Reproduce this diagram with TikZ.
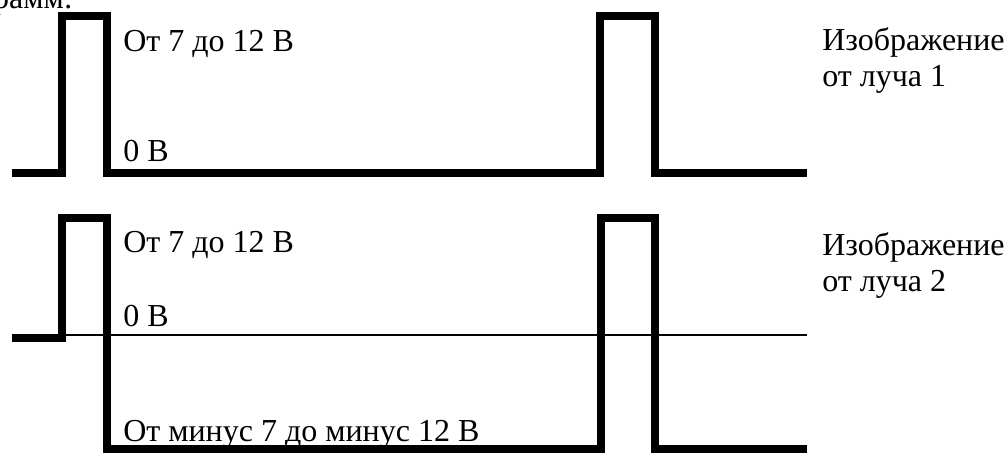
\documentclass[tikz,border=0pt]{standalone}
\usepackage{fontspec}
\setmainfont{Liberation Serif}
\begin{document}
\begin{tikzpicture}[x=0.75pt,y=-0.75pt,
  sig/.style={line width=6pt, line join=miter},
  zero/.style={line width=1.5pt},
  lbl/.style={anchor=base west, inner sep=0pt, font=\fontsize{24}{27}\selectfont}]
\useasboundingbox (0,0) rectangle (1008,459);
\clip (0,0) rectangle (1008,459);
% cut-off line of text at the top
\node[lbl, anchor=base east] (cut) at (73,9) {грамм:};
% beam 1
\draw[sig] (12,173) -- (62,173) -- (62,16) -- (107,16) -- (107,173)
  -- (600,173) -- (600,16) -- (655,16) -- (655,173) -- (807,173);
\node[lbl] (h1) at (123,52) {От 7 до 12 В};
\node[lbl] (z1) at (123,162) {0 В};
\node[lbl] (i1) at (822,51) {Изображение};
\node[lbl] (o1) at (822,87) {от луча 1};
% beam 2
\draw[zero] (62,335.5) -- (807,335.5);
\draw[sig] (12,338) -- (62,338) -- (62,218) -- (107,218) -- (107,449)
  -- (601,449) -- (601,218) -- (655,218) -- (655,449) -- (807,449);
\node[lbl] (h2) at (123,253) {От 7 до 12 В};
\node[lbl] (z2) at (123,327) {0 В};
\node[lbl] (m2) at (123,442) {От минус 7 до минус 12 В};
\node[lbl] (i2) at (822,256) {Изображение};
\node[lbl] (o2) at (822,292) {от луча 2};
\end{tikzpicture}
\end{document}
